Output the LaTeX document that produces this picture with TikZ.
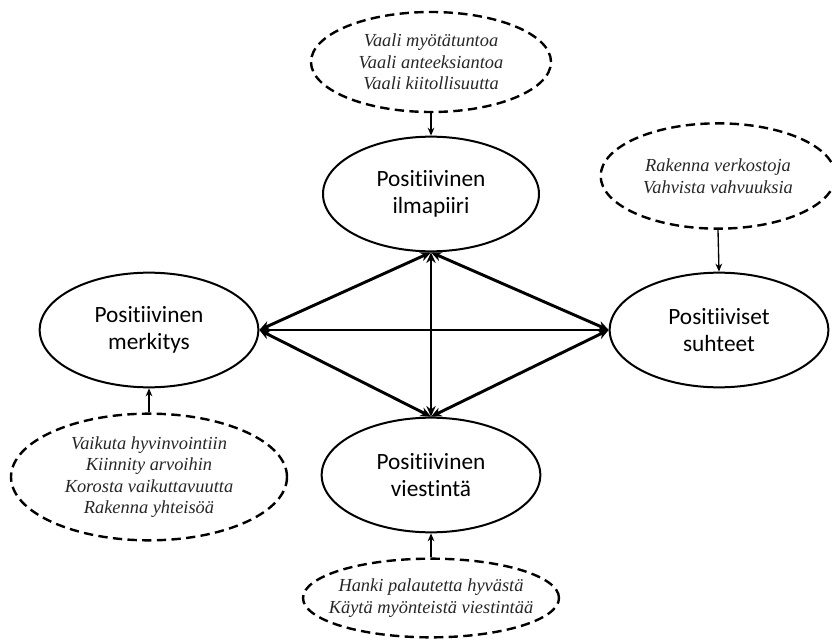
\documentclass[tikz,border=0pt]{standalone}
\usepackage{fontspec}
\usetikzlibrary{arrows.meta,shapes.geometric}
\newfontfamily\labelfont[Ligatures=NoCommon]{Carlito}
\newfontfamily\notefont{Liberation Serif}
\begin{document}
\begin{tikzpicture}[x=0.75pt,y=-0.75pt,
  core/.style={ellipse,draw,line width=1.5pt,inner sep=0pt,align=center,
    font=\labelfont\fontsize{17.5}{20}\selectfont},
  note/.style={ellipse,draw,dashed,dash pattern=on 7pt off 4pt,line width=1.8pt,
    inner sep=-14pt,align=center,text=black!85,
    font=\notefont\itshape\fontsize{13.8}{16.2}\selectfont},
  link/.style={line width=2.2pt,{Stealth[length=8pt,width=7pt]}-{Stealth[length=8pt,width=7pt]}},
  feed/.style={line width=1pt,-{Stealth[length=6pt,width=5pt]}}]
\useasboundingbox (0,0) rectangle (832,642);

% core themes
\node[core,minimum width=162pt,minimum height=86pt] (ilma) at (431,194) {Positiivinen\\ilmapiiri};
\node[core,minimum width=164pt,minimum height=86pt] (merk) at (149,330) {Positiivinen\\merkitys};
\node[core,minimum width=164pt,minimum height=86pt] (suht) at (719,330) {Positiiviset\\suhteet};
\node[core,minimum width=164pt,minimum height=86pt] (vies) at (431,475) {Positiivinen\\viestintä};

% practices feeding each theme
\node[note,minimum width=180pt,minimum height=75pt] (ntop) at (431,62)
  {Vaali myötätuntoa\\Vaali anteeksiantoa\\Vaali kiitollisuutta};
\node[note,minimum width=176pt,minimum height=79pt] (nright) at (718,176)
  {Rakenna verkostoja\\Vahvista vahvuuksia};
\node[note,minimum width=207pt,minimum height=95pt] (nleft) at (149,477)
  {Vaikuta hyvinvointiin\\Kiinnity arvoihin\\Korosta vaikuttavuutta\\Rakenna yhteisöä};
\node[note,minimum width=192pt,minimum height=59pt] (nbot) at (431,598)
  {Hanki palautetta hyvästä\\Käytä myönteistä viestintää};

% links between themes
\draw[link] (merk.east) -- (suht.west);
\draw[link] (ilma.south) -- (vies.north);
\draw[link] (merk.east) -- (ilma.south);
\draw[link] (merk.east) -- (vies.north);
\draw[link] (suht.west) -- (ilma.south);
\draw[link] (suht.west) -- (vies.north);

% feeding arrows
\draw[feed] (ntop.south) -- (ilma.north);
\draw[feed] (nright.south) -- (suht.north);
\draw[feed] (nleft.north) -- (merk.south);
\draw[feed] (nbot.north) -- (vies.south);
\end{tikzpicture}
\end{document}
